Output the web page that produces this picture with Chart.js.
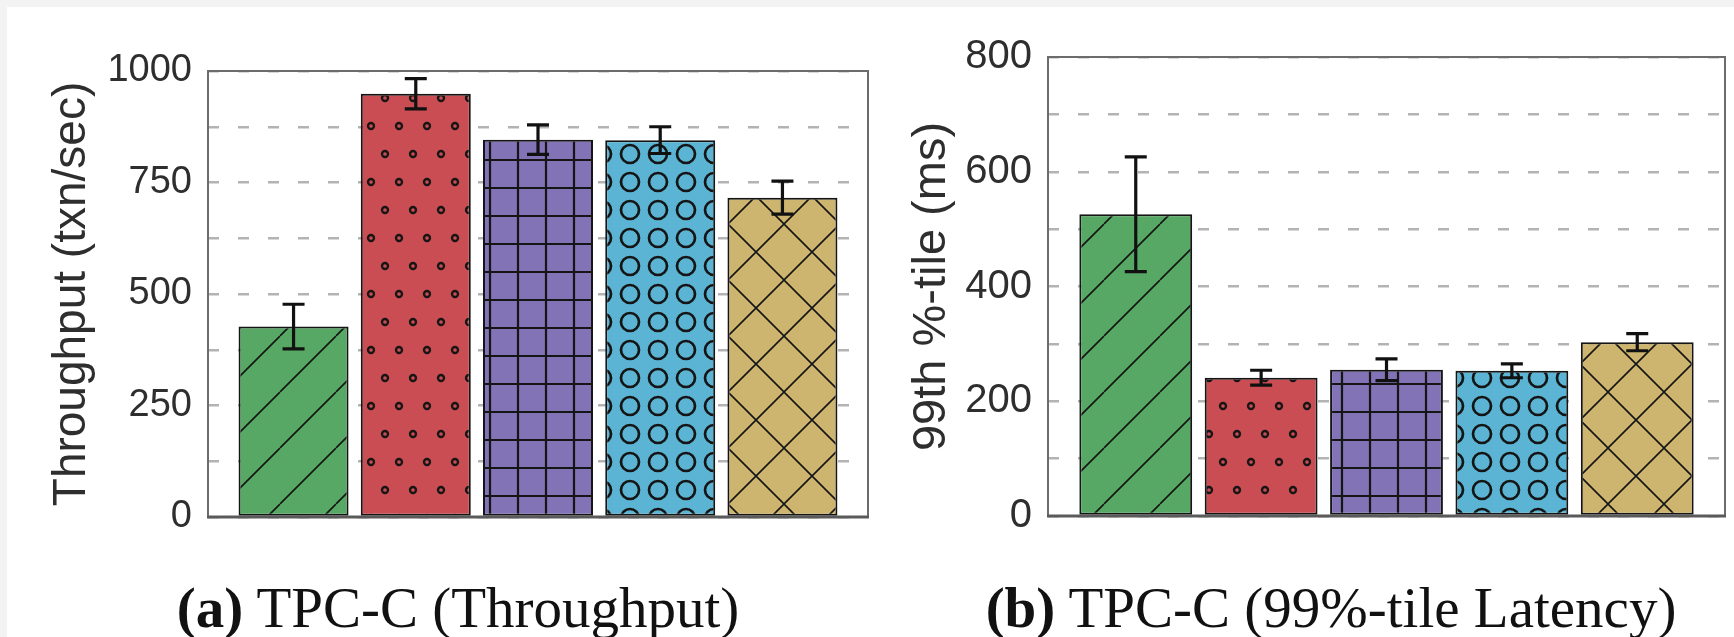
<!DOCTYPE html>
<html>
<head>
<meta charset="utf-8">
<script src="https://cdn.jsdelivr.net/npm/chart.js@4.4.1/dist/chart.umd.min.js"></script>
<style>
  body { margin: 0; width: 1734px; height: 637px; overflow: hidden; position: relative; background: #f3f3f3; }
  #sheet { position: absolute; left: 7px; top: 7px; right: 0; bottom: 0; background: #fff; }
  .panel { position: absolute; top: 0; height: 562px; }
  #left { left: 0; width: 880px; }
  #right { left: 880px; width: 854px; }
  .caption { position: absolute; top: 579px; font-family: "Liberation Serif", serif; font-size: 57px;
             line-height: 57px; color: #111; white-space: nowrap; transform: translateX(-50%); }
</style>
</head>
<body>
<div id="sheet"></div>
<div class="panel" id="left"><canvas id="tputChart"></canvas></div>
<div class="panel" id="right"><canvas id="latChart"></canvas></div>
<div class="caption" style="left:458px"><b>(a)</b> TPC-C (Throughput)</div>
<div class="caption" style="left:1331px"><b>(b)</b> TPC-C (99%-tile Latency)</div>

<script>
// five systems compared (no names shown in the figure)
const systems = ['S1', 'S2', 'S3', 'S4', 'S5'];

const throughput = [427, 949, 846, 845, 716];
const throughputErr = [50, 34, 33, 30, 37];
const throughputTicks = [0, 250, 500, 750, 1000];

const latency = [526, 241, 255, 253, 303];
const latencyErr = [100, 13, 19, 12, 15];
const latencyTicks = [0, 200, 400, 600, 800];

const barColors = ['#57a865', '#c94d52', '#8273b6', '#5bb4d3', '#cdb56f'];
const barHatches = ['diag', 'dots', 'grid', 'rings', 'cross'];

function makePattern(color, kind) {
    const c = document.createElement('canvas');
    const size = kind === 'diag' || kind === 'cross' ? 56 : 28;
    c.width = size;
    c.height = kind === 'dots' ? 56 : size;
    const g = c.getContext('2d');
    g.fillStyle = color;
    g.fillRect(0, 0, c.width, c.height);
    g.strokeStyle = '#151515';
    if (kind === 'diag' || kind === 'cross') {
        g.lineWidth = 1.6;
        g.beginPath();
        for (let k = -1; k <= 1; k++) {
            g.moveTo(k * 56, 56); g.lineTo(k * 56 + 56, 0);
            if (kind === 'cross') { g.moveTo(k * 56, 0); g.lineTo(k * 56 + 56, 56); }
        }
        g.stroke();
    } else if (kind === 'dots') {
        g.lineWidth = 2.3;
        [[7, 14], [21, 42]].forEach(p => {
            g.beginPath(); g.arc(p[0], p[1], 3, 0, Math.PI * 2); g.stroke();
        });
    } else if (kind === 'grid') {
        g.lineWidth = 2.2;
        g.beginPath();
        g.moveTo(14, 0); g.lineTo(14, 28);
        g.moveTo(0, 20); g.lineTo(28, 20);
        g.stroke();
    } else if (kind === 'rings') {
        g.lineWidth = 2.7;
        g.beginPath(); g.arc(14, 14, 9, 0, Math.PI * 2); g.stroke();
    }
    return g.createPattern(c, 'repeat');
}

const frame = {
    id: 'frame',
    afterDraw(chart) {
        const { ctx, chartArea: a } = chart;
        ctx.save();
        ctx.strokeStyle = '#6c6c6c';
        ctx.lineWidth = 2;
        ctx.strokeRect(a.left, a.top, a.right - a.left, a.bottom - a.top);
        ctx.strokeStyle = '#5a5a5a';
        ctx.lineWidth = 3;
        ctx.beginPath();
        ctx.moveTo(a.left - 1, a.bottom); ctx.lineTo(a.right + 1, a.bottom);
        ctx.stroke();
        ctx.restore();
    }
};

const errorBars = {
    id: 'errorBars',
    afterDatasetsDraw(chart, args, opts) {
        const { ctx } = chart;
        const y = chart.scales.y;
        const meta = chart.getDatasetMeta(0);
        const vals = chart.data.datasets[0].data;
        ctx.save();
        ctx.strokeStyle = '#111';
        ctx.lineWidth = 3.2;
        meta.data.forEach((bar, i) => {
            const top = y.getPixelForValue(vals[i].y + opts.errors[i]);
            const bot = y.getPixelForValue(vals[i].y - opts.errors[i]);
            ctx.beginPath();
            ctx.moveTo(bar.x, top); ctx.lineTo(bar.x, bot);
            ctx.moveTo(bar.x - 11, top); ctx.lineTo(bar.x + 11, top);
            ctx.moveTo(bar.x - 11, bot); ctx.lineTo(bar.x + 11, bot);
            ctx.stroke();
        });
        ctx.restore();
    }
};

function barChart(id, values, errors, tickValues, cfg) {
    return new Chart(document.getElementById(id), {
        type: 'bar',
        data: {
            datasets: [{
                data: values.map((v, i) => ({ x: i, y: v })),
                backgroundColor: barColors.map((c, i) => makePattern(c, barHatches[i])),
                borderColor: '#151515',
                borderWidth: 2,
                borderSkipped: false,
                categoryPercentage: 1,
                barPercentage: 0.9
            }]
        },
        options: {
            responsive: true,
            maintainAspectRatio: false,
            animation: false,
            layout: { padding: { left: 0, top: cfg.top, right: cfg.right, bottom: cfg.bottom } },
            plugins: {
                legend: { display: false },
                tooltip: { enabled: false },
                errorBars: { errors: errors }
            },
            scales: {
                x: {
                    type: 'linear',
                    display: false,
                    offset: false,
                    min: -0.7,
                    max: systems.length - 0.3,
                    afterBuildTicks: s => { s.ticks = systems.map((_, i) => ({ value: i })); }
                },
                y: {
                    min: 0,
                    max: tickValues[tickValues.length - 1],
                    afterFit: s => { s.width = cfg.axisWidth; },
                    ticks: {
                        stepSize: cfg.step,
                        autoSkip: false,
                        padding: 16,
                        color: '#2e2e2e',
                        font: { family: 'Liberation Sans', size: cfg.tickSize },
                        callback: v => tickValues.includes(v) ? v : ''
                    },
                    grid: { color: '#b3b3b3', lineWidth: 2.5, drawTicks: false },
                    border: { display: false, dash: [11, 19] },
                    title: {
                        display: true,
                        text: cfg.title,
                        color: '#2e2e2e',
                        font: { family: 'Liberation Sans', size: cfg.titleSize },
                        padding: { top: cfg.titlePad, bottom: 0 }
                    }
                }
            }
        },
        plugins: [frame, errorBars]
    });
}

barChart('tputChart', throughput, throughputErr, throughputTicks, {
    top: 71, right: 12, bottom: 45, axisWidth: 208, step: 125,
    tickSize: 38, titleSize: 46, titlePad: 45, title: 'Throughput (txn/sec)'
});

barChart('latChart', latency, latencyErr, latencyTicks, {
    top: 57, right: 9, bottom: 46, axisWidth: 168, step: 100,
    tickSize: 40, titleSize: 47, titlePad: 24, title: '99th %-tile (ms)'
});
</script>
</body>
</html>
